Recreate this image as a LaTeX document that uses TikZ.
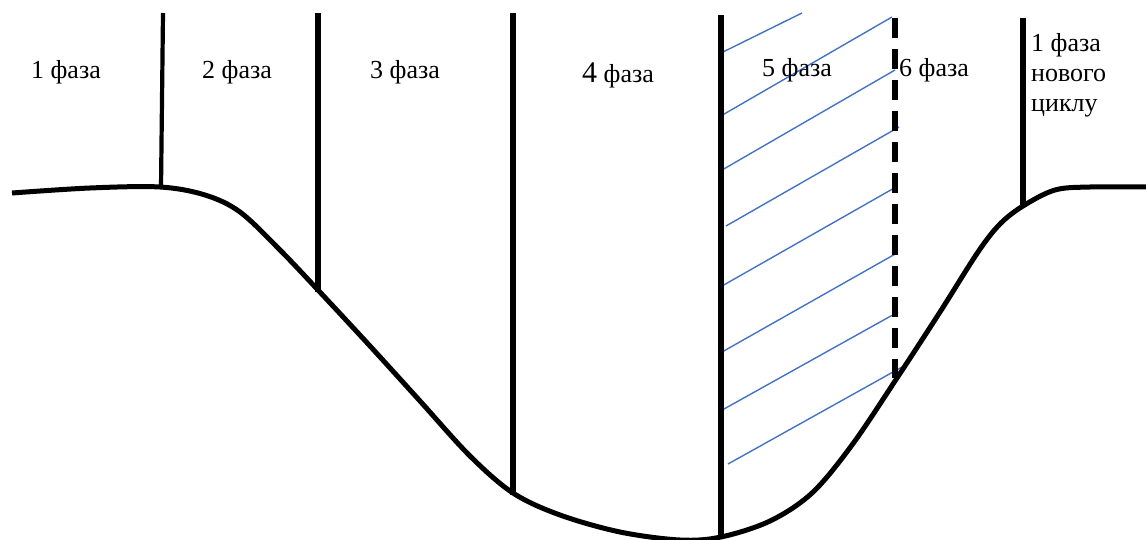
\documentclass[tikz,border=0pt]{standalone}
\usepackage{fontspec}
\setmainfont{Liberation Serif}
\usetikzlibrary{positioning}
\definecolor{hatchblue}{RGB}{68,114,196}
\tikzset{
  phaselabel/.style={font=\rmfamily\fontsize{26}{30}\selectfont, inner sep=0pt},
  border/.style={line width=5.5pt},
  thinborder/.style={line width=4.2pt},
  hatch/.style={draw=hatchblue, line width=1.4pt},
  wave/.style={line width=5pt, line join=round}
}

\begin{document}
\begin{tikzpicture}[x=1pt,y=-1pt]
\useasboundingbox (0,0) rectangle (1146,540);

% Hatching in phase 5
\foreach \ya/\xa/\xb/\yb in {52/723/802/13, 117/719/892/17, 170/722/895/70,
  226/726/899/127, 286/722/896/187, 352/722/897/253, 409/724/898/312,
  464/728/902/367}
  \draw[hatch] (\xa,\ya) -- (\xb,\yb);

% Cycle curve
\draw[wave] plot[smooth, tension=0.55] coordinates {
  (12,193) (90,188) (160,187) (205,195) (240,212) (280,250) (318,290)
  (370,346) (420,401) (470,456) (513,493) (560,515) (620,532) (680,540)
  (721,537) (770,521) (812,493) (852,445) (897,378) (940,312) (978,252)
  (1000,224) (1023,206) (1055,190) (1090,187) (1146,187)};

% Phase borders
\coordinate (top2) at (163,13);   \coordinate (bot2) at (161,188);
\coordinate (top3) at (318,13);   \coordinate (bot3) at (318,292);
\coordinate (top4) at (513,13);   \coordinate (bot4) at (513,495);
\coordinate (top5) at (721,15);   \coordinate (bot5) at (721,538);
\coordinate (top6) at (895,18);   \coordinate (bot6) at (895,378);
\coordinate (topN) at (1023,18);  \coordinate (botN) at (1023,206);
\draw[thinborder] (top2) -- (bot2);
\draw[border] (top3) -- (bot3);
\draw[border] (top4) -- (bot4);
\draw[border] (top5) -- (bot5);
\draw[border, dash pattern=on 20pt off 11pt] (top6) -- (bot6);
\draw[border] (topN) -- (botN);

% Labels
\node[phaselabel] (phaseA) at (66,72) {1 фаза};
\node[phaselabel] (phaseB) at (237,72) {2 фаза};
\node[phaselabel] (phaseC) at (405,72) {3 фаза};
\node[phaselabel] (phaseD) at (618,75) {{\fontsize{30}{32}\selectfont 4} фаза};
\node[phaselabel] (phaseE) at (797,70) {5 фаза};
\node[phaselabel] (phaseF) at (934,70) {6 фаза};
\node[phaselabel, align=left, anchor=north west] (phaseNew) at (1031,33)
  {1 фаза\\нового\\циклу};

\end{tikzpicture}
\end{document}
